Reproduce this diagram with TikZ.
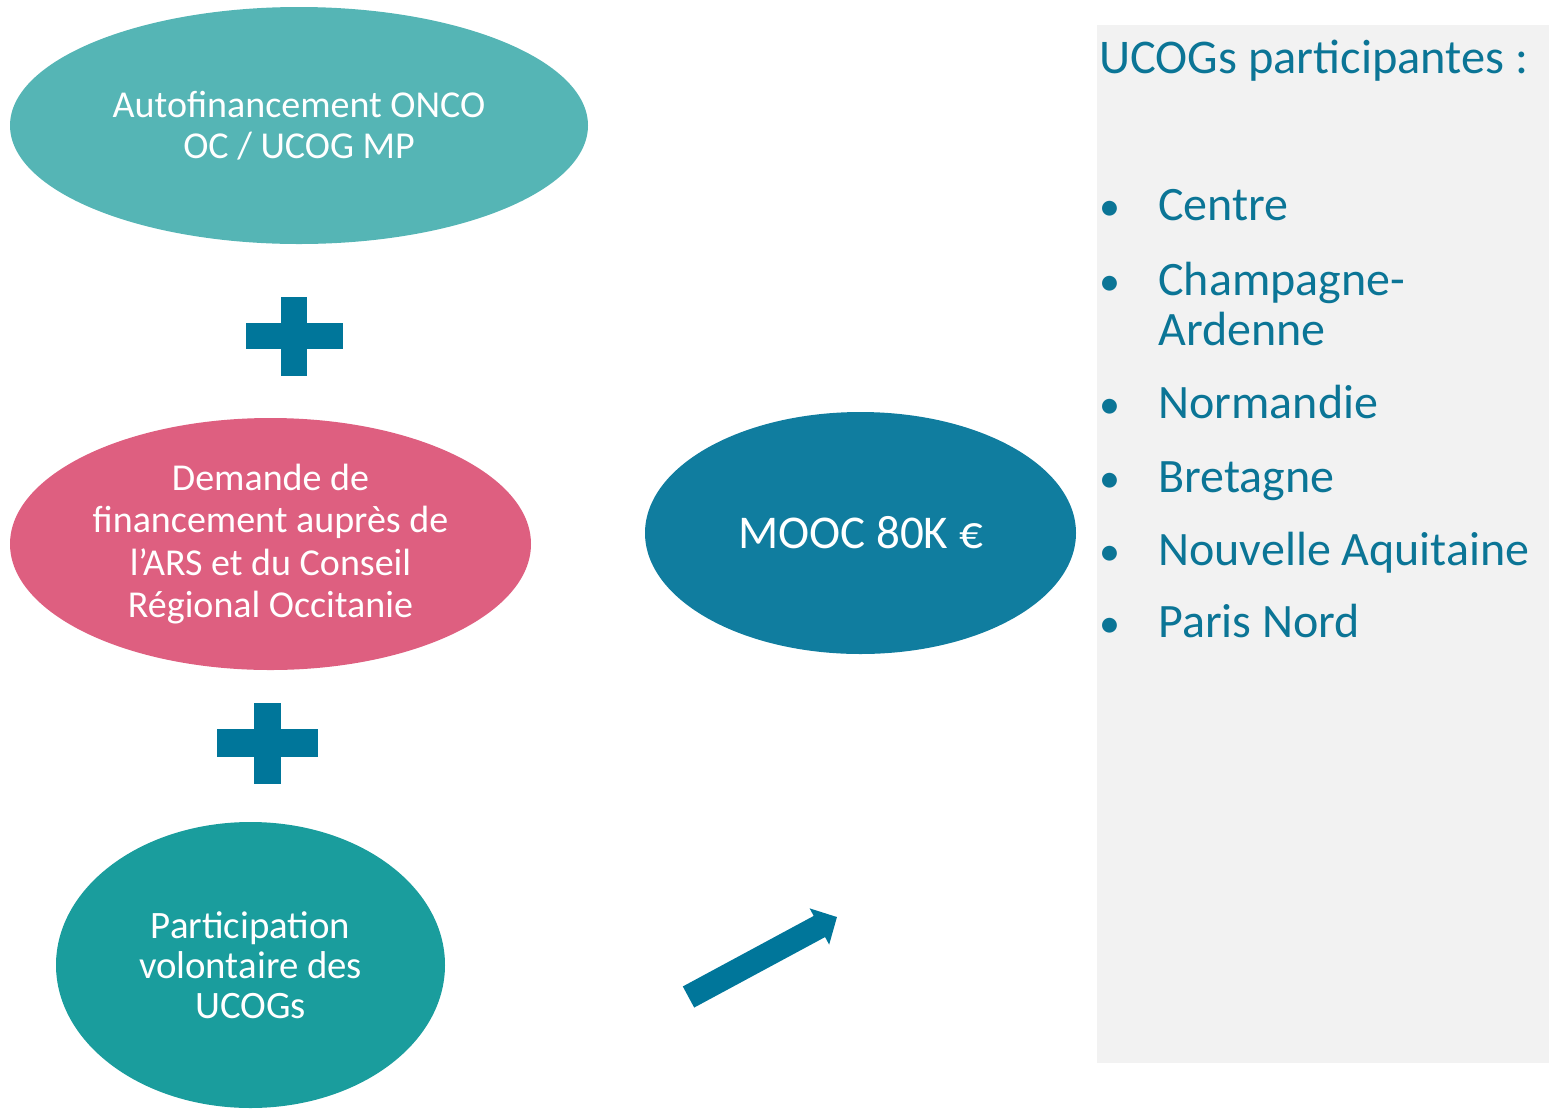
\documentclass[tikz,border=0pt]{standalone}
\usepackage{fontspec}
\setmainfont{Carlito}
\usetikzlibrary{positioning,calc,arrows.meta,shapes.geometric}
\definecolor{oncoteal}{HTML}{55B5B5}
\definecolor{arspink}{HTML}{DE5F80}
\definecolor{ucogteal}{HTML}{1A9D9D}
\definecolor{moocblue}{HTML}{107D9F}
\definecolor{plusblue}{HTML}{00769A}
\definecolor{listblue}{HTML}{0B7596}
\definecolor{listgray}{HTML}{F2F2F2}
\tikzset{
  bubble/.style={ellipse,inner sep=0pt,align=center,text=white},
  listitem/.style={anchor=base west,inner sep=0pt,text=listblue,
    font=\fontsize{24}{25}\selectfont}
}

\begin{document}
\begin{tikzpicture}[x=0.5pt,y=-0.5pt]
% One unit is one pixel of the slide
\useasboundingbox (0,0) rectangle (1554,1110);

% Gray box behind the list
\fill[listgray] (1097,25) rectangle (1549,1063);

% Draw the ellipses
\node[bubble,fill=oncoteal,minimum width=578*0.5pt,minimum height=237*0.5pt,
  font=\fontsize{19}{20.5}\selectfont] (onco) at (299,125.5)
  {Autofinancement ONCO\\OC / UCOG MP};
\node[bubble,fill=arspink,minimum width=521*0.5pt,minimum height=252*0.5pt,
  font=\fontsize{19}{21.2}\selectfont] (ars) at (270.5,544)
  {Demande de\\financement auprès de\\l’ARS et du Conseil\\Régional Occitanie};
\node[bubble,fill=ucogteal,minimum width=389*0.5pt,minimum height=286*0.5pt,
  font=\fontsize{19.4}{20}\selectfont] (ucog) at (250.5,965)
  {Participation\\volontaire des\\UCOGs};
\node[bubble,fill=moocblue,minimum width=431*0.5pt,minimum height=242*0.5pt,
  font=\fontsize{23.5}{25}\selectfont] (mooc) at (860.5,533) {MOOC 80K €};

% Plus signs between the ellipses
\coordinate (P1) at (294,336);
\coordinate (P2) at (267.5,743);
\fill[plusblue] ($(P1)+(-48.5,-13)$) rectangle ++(97,26);
\fill[plusblue] ($(P1)+(-13,-39.5)$) rectangle ++(26,79);
\fill[plusblue] ($(P2)+(-50.5,-14)$) rectangle ++(101,28);
\fill[plusblue] ($(P2)+(-13.5,-40.5)$) rectangle ++(27,81);

% Block arrow
\coordinate (tail) at (688.5,997);
\coordinate (tip) at (837,917);
\draw[plusblue,line width=12pt,-{Triangle[length=10pt,width=20pt]}] (tail) -- (tip);

% List of UCOGs
\node[listitem,font=\fontsize{24.2}{28}\selectfont] (title) at (1099,73)
  {UCOGs participantes :};
\foreach \y/\name/\txt in {220/centre/Centre,295/champ/Champagne-,
    345/champb/Ardenne,418/norm/Normandie,492/bret/Bretagne,
    565/naq/Nouvelle Aquitaine,637/paris/Paris Nord}
  \node[listitem] (\name) at (1158,\y) {\txt};
\foreach \y/\name in {220/b1,295/b2,418/b3,492/b4,565/b5,637/b6}
  \node[listitem,font=\fontsize{21}{25}\selectfont] (\name) at (1099,\y) {•};
\end{tikzpicture}
\end{document}
